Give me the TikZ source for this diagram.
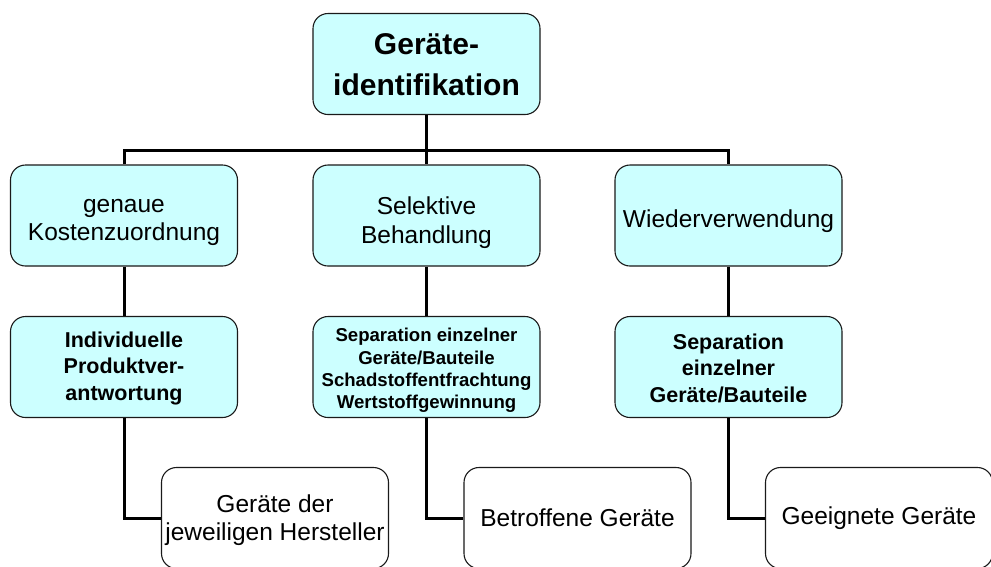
\documentclass[tikz,border=0pt]{standalone}
\usepackage{fontspec}
\setmainfont{Liberation Sans}
\definecolor{boxfill}{HTML}{CCFFFF}
\definecolor{boxline}{HTML}{1A1A1A}
\begin{document}
\begin{tikzpicture}[x=1pt,y=-1pt,
  cbox/.style={draw=boxline,line width=1.1pt,fill=boxfill,rounded corners=15pt,
    minimum width=227pt,minimum height=101pt,inner sep=0pt},
  wbox/.style={cbox,fill=white},
  txt/.style={inner sep=0pt,align=center},
  conn/.style={line width=3pt,black,line join=miter},
  fTop/.style={txt,font=\fontsize{30}{41}\selectfont\bfseries},
  fMid/.style={txt,font=\fontsize{24.5}{28.5}\selectfont},
  fBold/.style={txt,font=\fontsize{21.5}{26.5}\selectfont\bfseries},
  fSmall/.style={txt,font=\fontsize{18.6}{22.3}\selectfont\bfseries}]
\useasboundingbox (0,0) rectangle (991,566);
\clip (0,0) rectangle (991,566);
\fill[white] (0,0) rectangle (991,566);

% boxes
\node[cbox] (top) at (426.5,64) {};
\node[cbox] (l2a) at (124,215.5) {};
\node[cbox] (l2b) at (426.5,215.5) {};
\node[cbox] (l2c) at (728.5,215.5) {};
\node[cbox] (l3a) at (124,367) {};
\node[cbox] (l3b) at (426.5,367) {};
\node[cbox] (l3c) at (728.5,367) {};
\node[wbox] (l4a) at (275,518) {};
\node[wbox] (l4b) at (577.5,518) {};
\node[wbox] (l4c) at (879,518) {};

% texts
\node[fTop] (top-t) at ([yshift=-1pt]top.center) {Geräte-\\identifikation};
\node[fMid] (l2a-t) at ([yshift=-7pt]l2a.center) {genaue\\Kostenzuordnung};
\node[fMid] (l2b-t) at ([yshift=-7pt]l2b.center) {Selektive\\Behandlung};
\node[fMid] (l2c-t) at ([yshift=-6pt]l2c.center) {Wiederverwendung};
\node[fBold] (l3a-t) at ([yshift=-1pt]l3a.center) {Individuelle\\Produktver-\\antwortung};
\node[fSmall] (l3b-t) at ([yshift=-3.5pt]l3b.center) {Separation einzelner\\Geräte/Bauteile\\Schadstoffentfrachtung\\Wertstoffgewinnung};
\node[fBold] (l3c-t) at ([yshift=-1pt]l3c.center) {Separation\\einzelner\\Geräte/Bauteile};
\node[fMid] (l4a-t) at ([yshift=-2pt]l4a.center) {Geräte der\\jeweiligen Hersteller};
\node[fMid] (l4b-t) at (l4b.center) {Betroffene Geräte};
\node[fMid] (l4c-t) at (l4c.center) {Geeignete Geräte};

% connectors
\coordinate (bar) at (426.5,150);
\draw[conn] (top.south) -- (l2b.north);
\draw[conn] (l2a.north) -- (l2a.north |- bar) -- (l2c.north |- bar) -- (l2c.north);
\draw[conn] (l2a.south) -- (l3a.north);
\draw[conn] (l2b.south) -- (l3b.north);
\draw[conn] (l2c.south) -- (l3c.north);
\draw[conn] (l3a.south) |- (l4a.west);
\draw[conn] (l3b.south) |- (l4b.west);
\draw[conn] (l3c.south) |- (l4c.west);
\end{tikzpicture}
\end{document}
